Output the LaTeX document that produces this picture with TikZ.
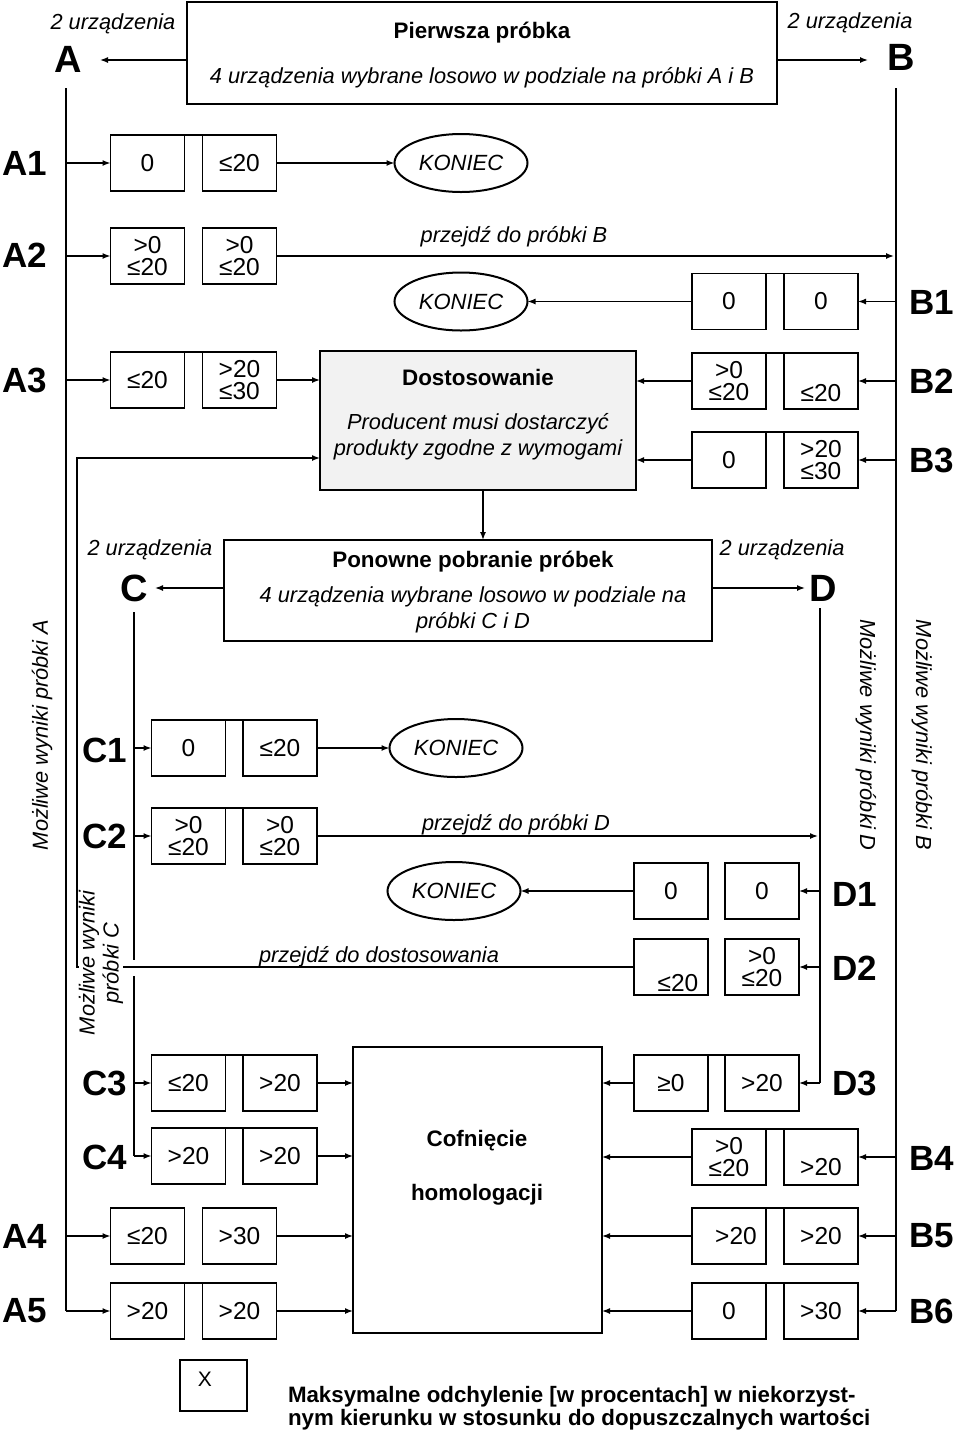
\documentclass[tikz,border=0pt]{standalone}
\usepackage{fontspec}
\setmainfont{Liberation Sans}
\usetikzlibrary{arrows.meta,shapes.geometric}
\newcommand\lowtxt[2]{\smash{\raisebox{-#1}{#2}}}
\newcommand\vpair[7]{%
  \node[valbox] (#1a) at (#2,#4) {#5};
  \node[valbox] (#1b) at (#3,#4) {#6};
  \ifnum#7=1 \draw[boxline] (#1a.north east) -- (#1b.north west);\fi
}
\begin{document}
\begin{tikzpicture}[x=1pt,y=-1pt,
  every node/.style={inner sep=0pt, outer sep=0pt},
  valbox/.style={draw, line width=1.6pt, minimum width=74pt, minimum height=56pt, align=center, font=\fontsize{24.5}{22}\selectfont},
  boxline/.style={line width=1.6pt},
  bigbox/.style={draw, line width=2.6pt},
  arr/.style={line width=1.4pt, -{Latex[length=8pt,width=6pt]}},
  ln/.style={line width=1.4pt},
  endnode/.style={draw, ellipse, line width=2pt, minimum width=133pt, minimum height=58pt, font=\fontsize{22}{22}\selectfont\itshape},
  body/.style={font=\fontsize{21.8}{26}\selectfont\itshape},
  ttl/.style={font=\fontsize{22.4}{22}\selectfont\bfseries},
  rowlab/.style={font=\fontsize{35}{35}\selectfont\bfseries},
  biglab/.style={font=\fontsize{38}{38}\selectfont\bfseries},
  legtxt/.style={font=\fontsize{22.3}{24}\selectfont\bfseries},
]
\useasboundingbox[fill=white] (0,0) rectangle (960,1433);

% ---- main boxes
\node[bigbox, minimum width=590pt, minimum height=102pt] (first) at (482,53) {};
\node[ttl, anchor=base] (firstT) at (482,38) {Pierwsza próbka};
\node[body, anchor=base] (firstS) at (482,83) {4 urządzenia wybrane losowo w podziale na próbki A i B};

\node[bigbox, fill=black!5, minimum width=316pt, minimum height=139pt] (dost) at (478,420.5) {};
\node[ttl, anchor=base] (dostT) at (478,385) {Dostosowanie};
\node[body, anchor=base] (dostS1) at (478,429) {Producent musi dostarczyć};
\node[body, anchor=base] (dostS2) at (478,455) {produkty zgodne z wymogami};

\node[bigbox, minimum width=488pt, minimum height=101pt] (pon) at (468,590.5) {};
\node[ttl, anchor=base] (ponT) at (473,567) {Ponowne pobranie próbek};
\node[body, anchor=base] (ponS1) at (473,602) {4 urządzenia wybrane losowo w podziale na};
\node[body, anchor=base] (ponS2) at (473,628) {próbki C i D};

\node[bigbox, minimum width=249pt, minimum height=286pt] (cof) at (477.5,1190) {};
\node[ttl, anchor=base] (cofT1) at (477,1146) {Cofnięcie};
\node[ttl, anchor=base] (cofT2) at (477,1200) {homologacji};

% ---- sample letters
\node[body, anchor=base] (uA) at (113,29) {2 urządzenia};
\node[body, anchor=base] (uB) at (850,28) {2 urządzenia};
\node[body, anchor=base] (uC) at (150,555) {2 urządzenia};
\node[body, anchor=base] (uD) at (782,555) {2 urządzenia};
\node[biglab] (A) at (68,59) {A};
\node[biglab] (B) at (901,57) {B};
\node[biglab] (C) at (134,588) {C};
\node[biglab] (D) at (823,588) {D};
\coordinate (Atip) at (100,60);
\coordinate (Btip) at (868,60);
\coordinate (Ctip) at (155,588);
\coordinate (Dtip) at (805,588);
\draw[arr] (first.west |- Atip) -- (Atip);
\draw[arr] (first.east |- Btip) -- (Btip);
\draw[arr] (pon.west |- Ctip) -- (Ctip);
\draw[arr] (pon.east |- Dtip) -- (Dtip);
\coordinate (dpt) at (483,0);
\draw[arr] (dost.south -| dpt) -- (pon.north -| dpt);

% ---- row labels
\foreach \n/\y in {A1/163,A2/255,A3/380,A4/1236,A5/1311}{\node[rowlab] (lab\n) at (25,\y) {\n};}
\foreach \n/\y in {B1/302,B2/381,B3/460,B4/1158,B5/1236,B6/1311}{\node[rowlab] (lab\n) at (932,\y) {\n};}
\foreach \n/\y in {C1/750,C2/836,C3/1083,C4/1157}{\node[rowlab] (lab\n) at (105,\y) {\n};}
\foreach \n/\y in {D1/894,D2/968,D3/1083}{\node[rowlab] (lab\n) at (855,\y) {\n};}

% ---- value boxes
\vpair{A1}{147.5}{239.5}{163}{0}{≤20}{1}
\vpair{A2}{147.5}{239.5}{256}{>0\\≤20}{>0\\≤20}{0}
\vpair{A3}{147.5}{239.5}{380}{≤20}{>20\\≤30}{1}
\vpair{A4}{147.5}{239.5}{1236}{≤20}{>30}{0}
\vpair{A5}{147.5}{239.5}{1311}{>20}{>20}{1}

\vpair{B1}{729}{821}{301.5}{0}{0}{1}
\vpair{B2}{729}{821}{381}{>0\\≤20}{\lowtxt{20pt}{≤20}}{1}
\vpair{B3}{729}{821}{460}{0}{>20\\≤30}{1}
\vpair{B4}{729}{821}{1157}{>0\\≤20}{\lowtxt{18pt}{>20}}{1}
\vpair{B5}{729}{821}{1236}{\hspace*{14pt}>20}{>20}{1}
\vpair{B6}{729}{821}{1311}{0}{>30}{1}

\vpair{C1}{188.5}{280}{748}{0}{≤20}{1}
\vpair{C2}{188.5}{280}{836}{>0\\≤20}{>0\\≤20}{1}
\vpair{C3}{188.5}{280}{1083}{≤20}{>20}{1}
\vpair{C4}{188.5}{280}{1156}{>20}{>20}{1}

\vpair{D1}{671}{762}{891}{0}{0}{0}
\vpair{D2}{671}{762}{967}{\hspace*{14pt}\lowtxt{24pt}{≤20}}{>0\\≤20}{0}
\vpair{D3}{671}{762}{1083}{≥0}{>20}{1}

% ---- end ellipses
\node[endnode] (K1) at (461,163) {KONIEC};
\node[endnode] (K2) at (461,301.5) {KONIEC};
\node[endnode] (K3) at (456,748) {KONIEC};
\node[endnode] (K4) at (454,891) {KONIEC};

% ---- A trunk
\coordinate (Atop) at (66,88);
\coordinate (Abot) at (66,1311);
\draw[ln] (Atop) -- (Abot);
\draw[arr] (Abot) -- (A5a.west);
\foreach \r in {A1,A2,A3,A4}{\draw[arr] (\r a.west -| Atop) -- (\r a.west);}
% ---- B trunk
\coordinate (Btop) at (896,88);
\coordinate (Bbot) at (896,1311);
\draw[ln] (Btop) -- (Bbot);
\draw[arr] (Bbot) -- (B6b.east);
\foreach \r in {B1,B2,B3,B4,B5}{\draw[arr] (\r b.east -| Btop) -- (\r b.east);}
% ---- C trunk
\coordinate (Ctop) at (134,612);
\coordinate (Cbot) at (134,1156);
\coordinate (Cgap1) at (134,960);
\coordinate (Cgap2) at (134,976);
\draw[ln] (Ctop) -- (Cgap1);
\draw[ln] (Cgap2) -- (Cbot);
\draw[arr] (Cbot) -- (C4a.west);
\foreach \r in {C1,C2,C3}{\draw[arr] (\r a.west -| Ctop) -- (\r a.west);}
% ---- D trunk
\coordinate (Dtop) at (820,608);
\coordinate (Dbot) at (820,1083);
\draw[ln] (Dtop) -- (Dbot);
\draw[arr] (Dbot) -- (D3b.east);
\foreach \r in {D1,D2}{\draw[arr] (\r b.east -| Dtop) -- (\r b.east);}

% ---- outcomes
\draw[arr] (A1b.east) -- (K1.west);
\draw[arr, shorten >=2pt] (A2b.east) -- (A2b.east -| Btop);
\node[body, anchor=base] (goB) at (514,242) {przejdź do próbki B};
\draw[arr] (B1a.west) -- (K2.east);
\draw[arr] (A3b.east) -- (A3b.east -| dost.west);
\draw[arr] (B2a.west) -- (B2a.west -| dost.east);
\draw[arr] (B3a.west) -- (B3a.west -| dost.east);

\draw[arr] (C1b.east) -- (K3.west);
\draw[arr, shorten >=2pt] (C2b.east) -- (C2b.east -| Dtop);
\node[body, anchor=base] (goD) at (516,830) {przejdź do próbki D};
\draw[arr] (D1a.west) -- (K4.east);
\coordinate (R) at (77,458);
\draw[arr] (D2a.west) -- (D2a.west -| R) -- (R) -- (R -| dost.west);
\node[body, anchor=base] (goDost) at (379,962) {przejdź do dostosowania};

\draw[arr] (C3b.east) -- (C3b.east -| cof.west);
\draw[arr] (C4b.east) -- (C4b.east -| cof.west);
\draw[arr] (A4b.east) -- (A4b.east -| cof.west);
\draw[arr] (A5b.east) -- (A5b.east -| cof.west);
\draw[arr] (D3a.west) -- (D3a.west -| cof.east);
\draw[arr] (B4a.west) -- (B4a.west -| cof.east);
\draw[arr] (B5a.west) -- (B5a.west -| cof.east);
\draw[arr] (B6a.west) -- (B6a.west -| cof.east);

% ---- rotated labels
\node[body, rotate=90] (resA) at (42,735) {Możliwe wyniki próbki A};
\node[body, rotate=-90] (resD) at (866,735) {Możliwe wyniki próbki D};
\node[body, rotate=-90] (resB) at (922,735) {Możliwe wyniki próbki B};
\node[body, rotate=90, align=center, fill=white, font=\fontsize{21.8}{24}\selectfont\itshape] (resC) at (101,963) {Możliwe wyniki\\próbki C};

% ---- legend
\node[draw, line width=1.6pt, minimum width=67pt, minimum height=51pt] (leg) at (213.5,1385.5) {};
\node[font=\fontsize{21}{21}\selectfont] (legX) at (205,1379) {X};
\node[legtxt, anchor=base west] (leg1) at (288,1402) {Maksymalne odchylenie [w procentach] w niekorzyst-};
\node[legtxt, anchor=base west] (leg2) at (288,1425) {nym kierunku w stosunku do dopuszczalnych wartości};
\end{tikzpicture}
\end{document}
